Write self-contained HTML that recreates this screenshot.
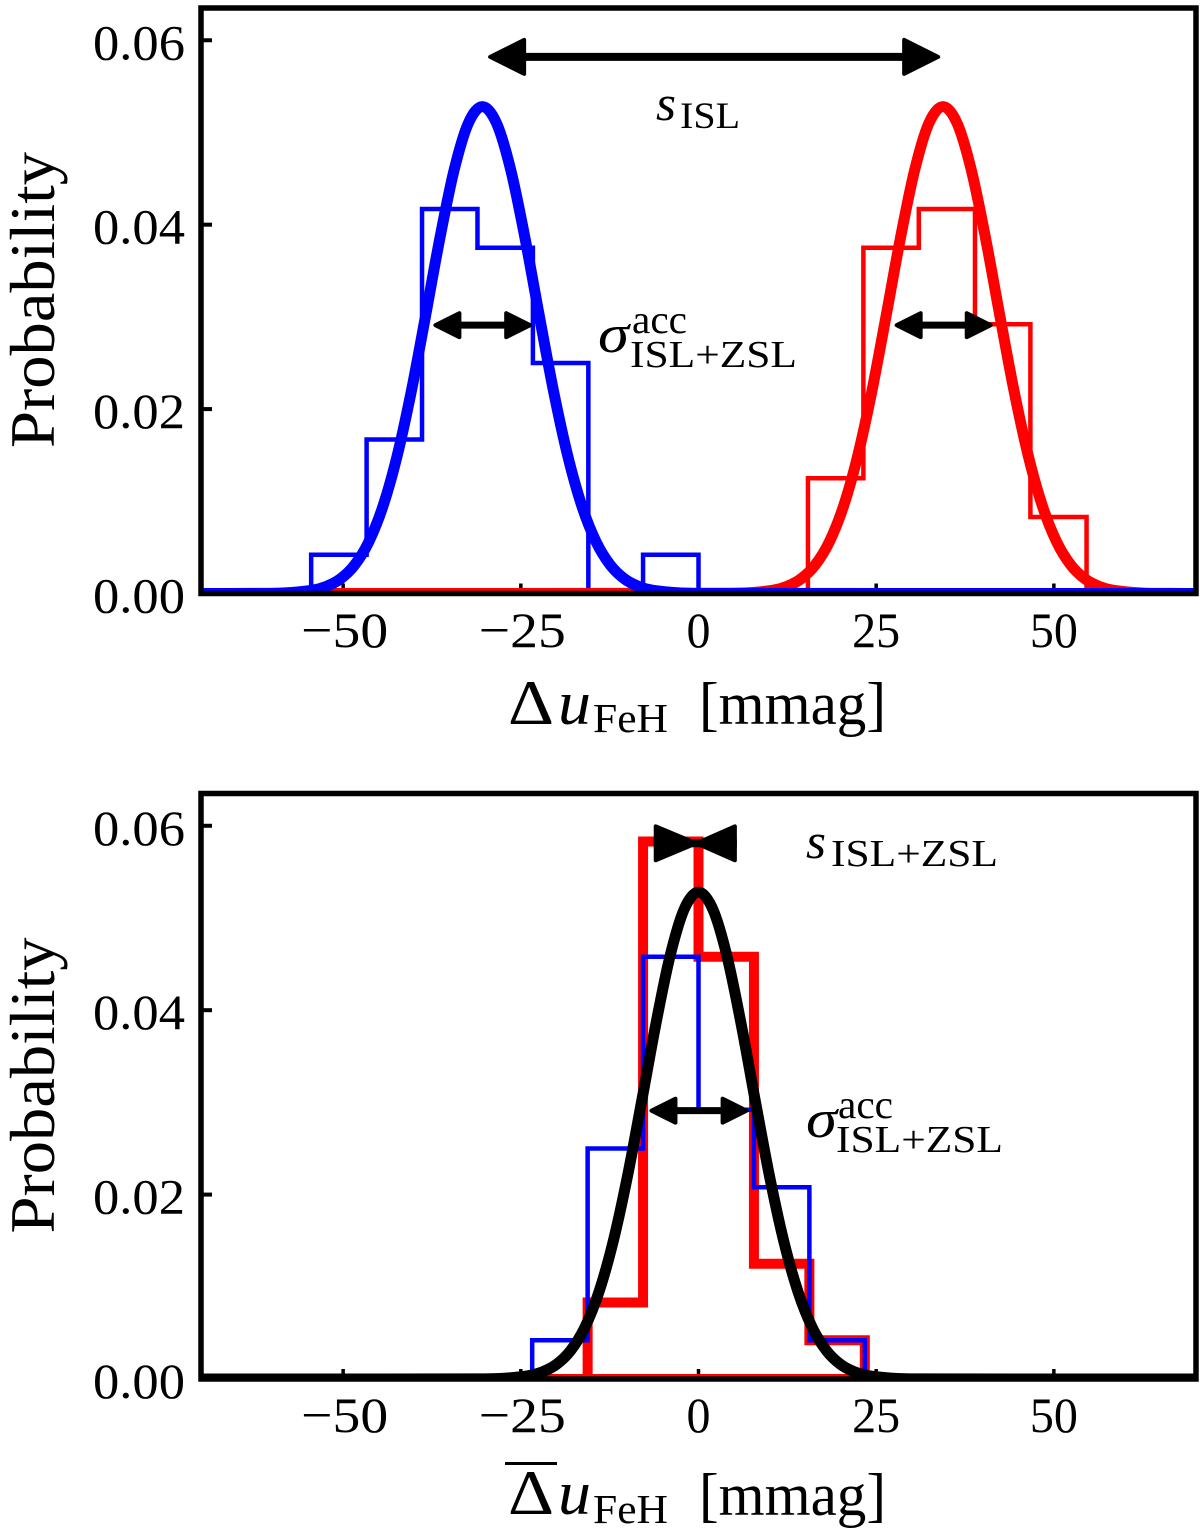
<!DOCTYPE html>
<html lang="en">
<head>
<meta charset="utf-8">
<title>Probability histograms of delta u FeH</title>
<style>
html,body{margin:0;padding:0;background:#fff;}
svg{display:block;}
text{font-family:"Liberation Serif",serif;fill:#000;}
</style>
</head>
<body>
<svg id="figure" xmlns="http://www.w3.org/2000/svg" width="1200" height="1536" viewBox="0 0 1200 1536">
  <rect x="0" y="0" width="1200" height="1536" fill="#fff"/>
  <defs>
    <clipPath id="clip-top"><rect x="201" y="8" width="995" height="585.5"/></clipPath>
    <clipPath id="clip-bottom"><rect x="201" y="793.5" width="995" height="585.5"/></clipPath>
  </defs>
  <g id="panel-top"></g>
  <g id="panel-bottom"></g>

  <g>
    <text transform="translate(54,448) rotate(-90)" font-size="63" textLength="296" lengthAdjust="spacingAndGlyphs">Probability</text>
  </g>
  <g>
    <text x="508" y="724" font-size="64" textLength="46" lengthAdjust="spacingAndGlyphs">Δ</text>
    <text x="558" y="724" font-size="62" font-style="italic" textLength="33" lengthAdjust="spacingAndGlyphs">u</text>
    <text x="593" y="732" font-size="41" textLength="75" lengthAdjust="spacingAndGlyphs">FeH</text>
    <text x="699" y="724" font-size="60" textLength="187" lengthAdjust="spacingAndGlyphs">[mmag]</text>
  </g>
  <g>
    <text x="656" y="120" font-size="50" font-style="italic" textLength="20" lengthAdjust="spacingAndGlyphs">s</text>
    <text x="680" y="128" font-size="37" textLength="60" lengthAdjust="spacingAndGlyphs">ISL</text>
  </g>
  <g>
    <text x="598" y="352" font-size="54" font-style="italic" textLength="31" lengthAdjust="spacingAndGlyphs">σ</text>
    <text x="632" y="333" font-size="40" textLength="55" lengthAdjust="spacingAndGlyphs">acc</text>
    <text x="630" y="367" font-size="38" textLength="167" lengthAdjust="spacingAndGlyphs">ISL+ZSL</text>
  </g>

  <g>
    <text transform="translate(54,1233.5) rotate(-90)" font-size="63" textLength="296" lengthAdjust="spacingAndGlyphs">Probability</text>
  </g>
  <g>
    <rect x="505" y="1462" width="52" height="3" fill="#000"/>
    <text x="508" y="1514" font-size="64" textLength="46" lengthAdjust="spacingAndGlyphs">Δ</text>
    <text x="558" y="1514" font-size="62" font-style="italic" textLength="33" lengthAdjust="spacingAndGlyphs">u</text>
    <text x="593" y="1523" font-size="41" textLength="75" lengthAdjust="spacingAndGlyphs">FeH</text>
    <text x="699" y="1515" font-size="60" textLength="187" lengthAdjust="spacingAndGlyphs">[mmag]</text>
  </g>
  <g>
    <text x="806" y="858" font-size="50" font-style="italic" textLength="20" lengthAdjust="spacingAndGlyphs">s</text>
    <text x="831" y="866" font-size="38" textLength="167" lengthAdjust="spacingAndGlyphs">ISL+ZSL</text>
  </g>
  <g>
    <text x="806" y="1137" font-size="54" font-style="italic" textLength="31" lengthAdjust="spacingAndGlyphs">σ</text>
    <text x="838" y="1118" font-size="40" textLength="55" lengthAdjust="spacingAndGlyphs">acc</text>
    <text x="836" y="1152" font-size="38" textLength="167" lengthAdjust="spacingAndGlyphs">ISL+ZSL</text>
  </g>
</svg>

<script>
// ---- axis settings ----
const xDomain = [-70, 70];
const yDomain = [0, 0.0635];
const xTickValues = [-50, -25, 0, 25, 50];
const xTickLabels = ["\u221250", "\u221225", "0", "25", "50"];
const yTickValues = [0, 0.02, 0.04, 0.06];
const yTickLabels = ["0.00", "0.02", "0.04", "0.06"];

// ---- top panel: histograms ----
const topBlueEdges = [-54.5, -46.7, -38.9, -31.1, -23.3, -15.5, -7.8, 0];
const topBlueCounts = [0.0042, 0.0167, 0.0417, 0.0375, 0.025, 0, 0.0042];
const topRedEdges = [15.4, 23.2, 31.0, 38.9, 46.7, 54.6];
const topRedCounts = [0.0125, 0.0375, 0.0417, 0.0292, 0.0083];

// ---- top panel: fitted curves ----
const topBlueCurveX = [-70, -62.4, -58.4, -54.4, -52.4, -50.4, -48.4, -46.4, -44.4, -42.4, -40.4, -38.4, -36.4, -34.4, -32.4, -30.4, -28.4, -26.4, -24.4, -22.4, -20.4, -18.4, -16.4, -14.4, -12.4, -10.4, -8.4, -6.4, -2.4, 1.6, 70];
const topBlueCurveY = [0, 0.00001, 0.00005, 0.00034, 0.00076, 0.00158, 0.00308, 0.00559, 0.00946, 0.01493, 0.02196, 0.03012, 0.0385, 0.04588, 0.05098, 0.0528, 0.05098, 0.04588, 0.0385, 0.03012, 0.02196, 0.01493, 0.00946, 0.00559, 0.00308, 0.00158, 0.00076, 0.00034, 0.00005, 0.00001, 0];
const topRedCurveX = [-70, 2.4, 6.4, 10.4, 12.4, 14.4, 16.4, 18.4, 20.4, 22.4, 24.4, 26.4, 28.4, 30.4, 32.4, 34.4, 36.4, 38.4, 40.4, 42.4, 44.4, 46.4, 48.4, 50.4, 52.4, 54.4, 56.4, 58.4, 62.4, 66.4, 70];
const topRedCurveY = [0, 0.00001, 0.00005, 0.00034, 0.00076, 0.00158, 0.00308, 0.00559, 0.00946, 0.01493, 0.02196, 0.03012, 0.0385, 0.04588, 0.05098, 0.0528, 0.05098, 0.04588, 0.0385, 0.03012, 0.02196, 0.01493, 0.00946, 0.00559, 0.00308, 0.00158, 0.00076, 0.00034, 0.00005, 0.00001, 0];

// ---- bottom panel: histograms ----
const bottomEdges = [-23.4, -15.6, -7.8, 0, 7.8, 15.6, 23.4];
const bottomRedCounts = [0, 0.0083, 0.0583, 0.0458, 0.0125, 0.0042];
const bottomBlueCounts = [0.0042, 0.025, 0.0458, 0.0292, 0.0208, 0.0042];

// ---- bottom panel: fitted curve ----
const bottomCurveX = [-70, -32, -28, -24, -22, -20, -18, -16, -14, -12, -10, -8, -6, -4, -2, 0, 2, 4, 6, 8, 10, 12, 14, 16, 18, 20, 22, 24, 28, 32, 70];
const bottomCurveY = [0, 0.00001, 0.00005, 0.00034, 0.00076, 0.00158, 0.00308, 0.00559, 0.00946, 0.01493, 0.02196, 0.03012, 0.0385, 0.04588, 0.05098, 0.0528, 0.05098, 0.04588, 0.0385, 0.03012, 0.02196, 0.01493, 0.00946, 0.00559, 0.00308, 0.00158, 0.00076, 0.00034, 0.00005, 0.00001, 0];

// ---- annotation arrows, in data units: [from, to, level] ----
const widthArrowTopBlue = [-37.3, -23.4, 0.0291];
const widthArrowTopRed = [27.6, 41.4, 0.0291];
const separationArrowTop = [-29.6, 34.0, 0.0582];
const widthArrowBottom = [-6.9, 7.05, 0.0291];
const separationArrowBottom = [-6.3, 5.4, 0.0581];

const NS = "http://www.w3.org/2000/svg";
const frameLeft = 201, frameRight = 1196;

function xAxis(v) {
  return frameLeft + (v - xDomain[0]) / (xDomain[1] - xDomain[0]) * (frameRight - frameLeft);
}
function yAxisFor(base, top) {
  return function (v) {
    return base - (v - yDomain[0]) / (yDomain[1] - yDomain[0]) * (base - top);
  };
}
function make(tag) {
  return document.createElementNS(NS, tag);
}

function histPath(edges, counts, yAxis) {
  let d = "M" + xAxis(edges[0]).toFixed(2) + " " + yAxis(0).toFixed(2);
  counts.forEach(function (c, i) {
    d += "L" + xAxis(edges[i]).toFixed(2) + " " + yAxis(c).toFixed(2);
    d += "L" + xAxis(edges[i + 1]).toFixed(2) + " " + yAxis(c).toFixed(2);
  });
  d += "L" + xAxis(edges[edges.length - 1]).toFixed(2) + " " + yAxis(0).toFixed(2) + "Z";
  return d;
}

function curvePath(xs, ys, yAxis) {
  const pts = xs.map(function (x, i) { return [xAxis(x), yAxis(ys[i])]; });
  let d = "M" + pts[0][0].toFixed(2) + " " + pts[0][1].toFixed(2);
  for (let i = 0; i < pts.length - 1; i++) {
    const p0 = pts[Math.max(0, i - 1)], p1 = pts[i], p2 = pts[i + 1], p3 = pts[Math.min(pts.length - 1, i + 2)];
    const spanA = Math.max(1e-6, p2[0] - p0[0]), spanB = Math.max(1e-6, p3[0] - p1[0]);
    const h = p2[0] - p1[0];
    const c1x = p1[0] + h / 3, c1y = p1[1] + (p2[1] - p0[1]) / spanA * h / 3;
    const c2x = p2[0] - h / 3, c2y = p2[1] - (p3[1] - p1[1]) / spanB * h / 3;
    d += "C" + c1x.toFixed(2) + " " + c1y.toFixed(2) + " " + c2x.toFixed(2) + " " + c2y.toFixed(2) + " " + p2[0].toFixed(2) + " " + p2[1].toFixed(2);
  }
  return d;
}

function drawHist(parent, name, edges, counts, color, width, yAxis) {
  const el = make("path");
  
  
  el.setAttribute("d", histPath(edges, counts, yAxis));
  el.setAttribute("fill", "none");
  el.setAttribute("stroke", color);
  el.setAttribute("stroke-width", width);
  el.setAttribute("stroke-linejoin", "miter");
  parent.appendChild(el);
}

function drawCurve(parent, name, xs, ys, color, yAxis) {
  const el = make("path");
  
  
  el.setAttribute("d", curvePath(xs, ys, yAxis));
  el.setAttribute("fill", "none");
  el.setAttribute("stroke", color);
  el.setAttribute("stroke-width", "11");
  el.setAttribute("stroke-linejoin", "round");
  parent.appendChild(el);
}

function drawHead(parent, name, tip, base, y, half) {
  const dir = base > tip ? 1 : -1;
  const el = make("polygon");
  
  
  el.setAttribute("points", (tip + dir * 2) + "," + y + " " + (base - dir * 2) + "," + (y - half + 2) + " " + (base - dir * 2) + "," + (y + half - 2));
  el.setAttribute("fill", "#000");
  el.setAttribute("stroke", "#000");
  el.setAttribute("stroke-width", "4");
  el.setAttribute("stroke-linejoin", "round");
  parent.appendChild(el);
}

function drawShaft(parent, name, x1, x2, y, width) {
  const el = make("line");
  
  
  el.setAttribute("x1", x1);
  el.setAttribute("x2", x2);
  el.setAttribute("y1", y);
  el.setAttribute("y2", y);
  el.setAttribute("stroke", "#000");
  el.setAttribute("stroke-width", width);
  parent.appendChild(el);
}

function drawArrow(parent, name, spec, yAxis, headLen, half, width) {
  const a = xAxis(spec[0]), b = xAxis(spec[1]), y = yAxis(spec[2]);
  drawShaft(parent, name + "-shaft", a + headLen - 2, b - headLen + 2, y, width);
  drawHead(parent, name + "-head-left", a, a + headLen, y, half);
  drawHead(parent, name + "-head-right", b, b - headLen, y, half);
}

function drawInwardArrow(parent, name, spec, yAxis, half, width) {
  const a = xAxis(spec[0]), b = xAxis(spec[1]), y = yAxis(spec[2]);
  const mid = (a + b) / 2 + 1;
  drawShaft(parent, name + "-shaft", a, b, y, width);
  drawHead(parent, name + "-head-left", mid + 2, a, y, half);
  drawHead(parent, name + "-head-right", mid - 2, b, y, half);
}

function drawTicks(parent, yAxis, base, labelBaseline, prefix) {
  xTickValues.forEach(function (v, i) {
    const t = make("rect");
    
    
    t.setAttribute("x", xAxis(v) - 1.75);
    t.setAttribute("y", base - 10);
    t.setAttribute("width", 3.5);
    t.setAttribute("height", 10);
    t.setAttribute("fill", "#000");
    parent.appendChild(t);

    const lab = make("text");
    
    
    lab.setAttribute("x", xAxis(v) + (v < 0 ? 1.5 : 0));
    lab.setAttribute("y", labelBaseline);
    lab.setAttribute("font-size", "50");
    lab.setAttribute("text-anchor", "middle");
    lab.setAttribute("lengthAdjust", "spacingAndGlyphs");
    lab.setAttribute("textLength", xTickLabels[i].length === 3 ? 87 : (xTickLabels[i].length === 2 ? 48 : 24));
    lab.textContent = xTickLabels[i];
    parent.appendChild(lab);
  });
  yTickValues.forEach(function (v, i) {
    const t = make("rect");
    
    
    t.setAttribute("x", frameLeft);
    t.setAttribute("y", yAxis(v) - 2);
    t.setAttribute("width", 11);
    t.setAttribute("height", 4);
    t.setAttribute("fill", "#000");
    parent.appendChild(t);

    const lab = make("text");
    
    
    lab.setAttribute("x", 185);
    lab.setAttribute("y", yAxis(v) + 19);
    lab.setAttribute("font-size", "50");
    lab.setAttribute("text-anchor", "end");
    lab.setAttribute("lengthAdjust", "spacingAndGlyphs");
    lab.setAttribute("textLength", 92);
    lab.textContent = yTickLabels[i];
    parent.appendChild(lab);
  });
}

function drawFrame(parent, name, top, base) {
  const el = make("rect");
  
  
  el.setAttribute("x", frameLeft);
  el.setAttribute("y", top);
  el.setAttribute("width", frameRight - frameLeft);
  el.setAttribute("height", base - top);
  el.setAttribute("fill", "none");
  el.setAttribute("stroke", "#000");
  el.setAttribute("stroke-width", "5.5");
  parent.appendChild(el);
}

function makeMarksGroup(parent, name, clipId) {
  const g = make("g");
  
  
  g.setAttribute("clip-path", "url(#" + clipId + ")");
  parent.appendChild(g);
  return g;
}

// ---- top panel ----
const topGroup = document.getElementById("panel-top");
const topY = yAxisFor(593.5, 8);
drawTicks(topGroup, topY, 593.5, 647, "top");
const topMarks = makeMarksGroup(topGroup, "top-plot-area", "clip-top");
drawHist(topMarks, "top-red-histogram", topRedEdges, topRedCounts, "#ff0000", 4.5, topY);
drawHist(topMarks, "top-blue-histogram", topBlueEdges, topBlueCounts, "#0000ff", 4.5, topY);
drawCurve(topMarks, "top-red-gaussian", topRedCurveX, topRedCurveY, "#ff0000", topY);
drawCurve(topMarks, "top-blue-gaussian", topBlueCurveX, topBlueCurveY, "#0000ff", topY);
drawFrame(topGroup, "top-axes-frame", 8, 593.5);
drawArrow(topGroup, "separation-arrow-top", separationArrowTop, topY, 38, 19, 8);
drawArrow(topGroup, "width-arrow-blue", widthArrowTopBlue, topY, 28, 14, 7);
drawArrow(topGroup, "width-arrow-red", widthArrowTopRed, topY, 28, 14, 7);

// ---- bottom panel ----
const bottomGroup = document.getElementById("panel-bottom");
const bottomY = yAxisFor(1379, 793.5);
drawTicks(bottomGroup, bottomY, 1379, 1432, "bottom");
const bottomMarks = makeMarksGroup(bottomGroup, "bottom-plot-area", "clip-bottom");
drawHist(bottomMarks, "bottom-red-histogram", bottomEdges, bottomRedCounts, "#ff0000", 10, bottomY);
drawHist(bottomMarks, "bottom-blue-histogram", bottomEdges, bottomBlueCounts, "#0000ff", 4.5, bottomY);
drawCurve(bottomMarks, "bottom-black-gaussian", bottomCurveX, bottomCurveY, "#000000", bottomY);
drawFrame(bottomGroup, "bottom-axes-frame", 793.5, 1379);
drawInwardArrow(bottomGroup, "separation-arrow-bottom", separationArrowBottom, bottomY, 19, 8);
drawArrow(bottomGroup, "width-arrow-bottom", widthArrowBottom, bottomY, 28, 14, 7);
</script>
</body>
</html>
